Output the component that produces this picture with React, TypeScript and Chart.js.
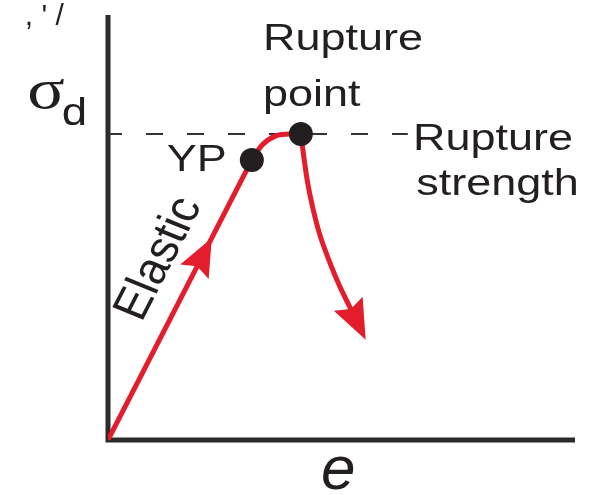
import React, { useEffect, useRef } from "react";
import { Chart, registerables } from "chart.js";

Chart.register(...registerables);

// ---- data (strain e, stress σ in arbitrary units) ----
const strainMax = 10;
const stressMax = 10;
const ruptureStrength = 7.2;

const elasticStrain = [0, 3.08];
const elasticStress = [0, 6.59];

const yieldStrain = [3.08, 3.3, 3.58, 3.9, 4.13];
const yieldStress = [6.59, 6.94, 7.15, 7.2, 7.2];

const failureStrain = [4.13, 4.2, 4.28, 4.39, 4.53, 4.72, 4.94, 5.2];
const failureStress = [7.2, 6.61, 6.02, 5.44, 4.85, 4.26, 3.67, 3.08];

const markerNames = ["YP", "Rupture point"];
const markerStrain = [3.08, 4.13];
const markerStress = [6.59, 7.2];

const strengthLineStrain = [0, 6.42];

// ---- text annotations (anchored in data units) ----
const textItems = [
  { text: "Rupture", x: 3.32, y: 9.18, size: 36, sx: 1.25, align: "left" },
  { text: "point", x: 3.32, y: 7.86, size: 36, sx: 1.25, align: "left" },
  { text: "YP", x: 1.26, y: 6.33, size: 36, sx: 1.25, align: "left" },
  { text: "Rupture", x: 6.53, y: 6.82, size: 36, sx: 1.25, align: "left" },
  { text: "strength", x: 6.6, y: 5.76, size: 36, sx: 1.25, align: "left" },
];

const RED = "#e31d2b";
const INK = "#231f20";
const SANS = "'Liberation Sans', Arial, Helvetica, sans-serif";

const zip = (xs: number[], ys: number[]) => xs.map((x, i) => ({ x, y: ys[i] }));

function drawText(
  ctx: CanvasRenderingContext2D,
  text: string,
  x: number,
  y: number,
  font: string,
  sx: number,
  align: CanvasTextAlign,
  baseline: CanvasTextBaseline,
  rot = 0
) {
  ctx.save();
  ctx.translate(x, y);
  ctx.scale(sx, 1);
  if (rot) ctx.rotate(rot);
  ctx.font = font;
  ctx.textAlign = align;
  ctx.textBaseline = baseline;
  ctx.fillStyle = INK;
  ctx.fillText(text, 0, 0);
  ctx.restore();
}

function drawArrowHead(
  ctx: CanvasRenderingContext2D,
  bx: number,
  by: number,
  angle: number,
  len: number,
  half: number,
  back: number
) {
  ctx.save();
  ctx.translate(bx, by);
  ctx.rotate(angle);
  ctx.beginPath();
  ctx.moveTo(len, 0);
  ctx.lineTo(-back, -half);
  ctx.lineTo(0, 0);
  ctx.lineTo(-back, half);
  ctx.closePath();
  ctx.fillStyle = RED;
  ctx.fill();
  ctx.restore();
}

const diagramPlugin = {
  id: "diagram",
  beforeDatasetsDraw(chart: any) {
    const { ctx, chartArea } = chart;
    const { left, right, top, bottom } = chartArea;
    ctx.save();
    ctx.strokeStyle = "#2b2b2b";
    ctx.lineWidth = 5;
    ctx.lineCap = "butt";
    ctx.beginPath();
    ctx.moveTo(left, top);
    ctx.lineTo(left, bottom + 2.5);
    ctx.moveTo(left - 2.5, bottom);
    ctx.lineTo(right, bottom);
    ctx.stroke();
    ctx.restore();
  },
  afterDatasetsDraw(chart: any) {
    const { ctx } = chart;
    const xs = chart.scales.x;
    const ys = chart.scales.y;
    const px = (v: number) => xs.getPixelForValue(v);
    const py = (v: number) => ys.getPixelForValue(v);

    // arrow on elastic line
    const x0 = px(elasticStrain[0]);
    const y0 = py(elasticStress[0]);
    const x1 = px(elasticStrain[1]);
    const y1 = py(elasticStress[1]);
    const a = Math.atan2(y1 - y0, x1 - x0);
    const f = 0.62;
    drawArrowHead(ctx, x0 + (x1 - x0) * f, y0 + (y1 - y0) * f, a, 32, 16, 6);

    // arrow at end of failure curve, along its last segment
    const n = failureStrain.length - 1;
    const ex = px(failureStrain[n]);
    const ey = py(failureStress[n]);
    const ea = Math.atan2(ey - py(failureStress[n - 1]), ex - px(failureStrain[n - 1]));
    drawArrowHead(ctx, ex, ey, ea, 34, 16, 6);

    // labels
    for (const t of textItems) {
      drawText(ctx, t.text, px(t.x), py(t.y), `${t.size}px ${SANS}`, t.sx, t.align as CanvasTextAlign, "alphabetic");
    }

    // Elastic (rotated along the line)
    const sx = 1.12;
    const rot = Math.atan(sx * Math.tan(a));
    drawText(ctx, "Elastic", px(1.1), py(4.26), `44px ${SANS}`, sx, "center", "middle", rot);

    // axis labels
    drawText(ctx, "σ", px(-1.73), py(7.81), `58px 'Liberation Serif', serif`, 1.2, "left", "alphabetic");
    drawText(ctx, "d", px(-0.99), py(7.41), `38px ${SANS}`, 1.2, "left", "alphabetic");
    drawText(ctx, "e", px(4.93), py(-1.15), `italic 62px ${SANS}`, 1.0, "center", "alphabetic");

    // clipped remnant at the top-left corner
    drawText(ctx, ", ' /", px(-1.78), py(9.76), `30px ${SANS}`, 1.0, "left", "alphabetic");
  },
};

export default function App() {
  const ref = useRef<HTMLCanvasElement | null>(null);

  useEffect(() => {
    if (!ref.current) return;
    const lineCommon = {
      showLine: true,
      pointRadius: 0,
      pointHoverRadius: 0,
      borderColor: RED,
      borderWidth: 5,
      borderJoinStyle: "round" as const,
      fill: false,
      order: 1,
    };
    const chart = new Chart(ref.current, {
      type: "scatter",
      data: {
        datasets: [
          {
            label: markerNames.join(", "),
            data: zip(markerStrain, markerStress),
            showLine: false,
            pointRadius: 12,
            pointHoverRadius: 12,
            pointBackgroundColor: INK,
            pointBorderWidth: 0,
            backgroundColor: INK,
            order: 0,
          },
          { label: "Elastic", data: zip(elasticStrain, elasticStress), ...lineCommon, tension: 0 },
          { label: "Yield", data: zip(yieldStrain, yieldStress), ...lineCommon, cubicInterpolationMode: "monotone" as const },
          { label: "Failure", data: zip(failureStrain, failureStress), ...lineCommon, tension: 0.35 },
          {
            label: "Rupture strength",
            data: zip(strengthLineStrain, strengthLineStrain.map(() => ruptureStrength)),
            showLine: true,
            pointRadius: 0,
            borderColor: "#333333",
            borderWidth: 2,
            borderDash: [17, 24],
            borderDashOffset: 3,
            fill: false,
            order: 2,
          },
        ],
      },
      options: {
        responsive: false,
        animation: false,
        devicePixelRatio: 1,
        layout: { padding: { left: 108, right: 28, top: 15, bottom: 55 } },
        plugins: { legend: { display: false }, tooltip: { enabled: false }, title: { display: false } },
        events: [],
        scales: {
          x: { type: "linear", min: 0, max: strainMax, display: false },
          y: { type: "linear", min: 0, max: stressMax, display: false },
        },
      },
      plugins: [diagramPlugin],
    });
    return () => chart.destroy();
  }, []);

  return (
    <div style={{ position: "fixed", left: 0, top: 0, width: 603, height: 495, background: "#fff" }}>
      <canvas ref={ref} width={603} height={495} style={{ width: 603, height: 495, display: "block" }} />
    </div>
  );
}
